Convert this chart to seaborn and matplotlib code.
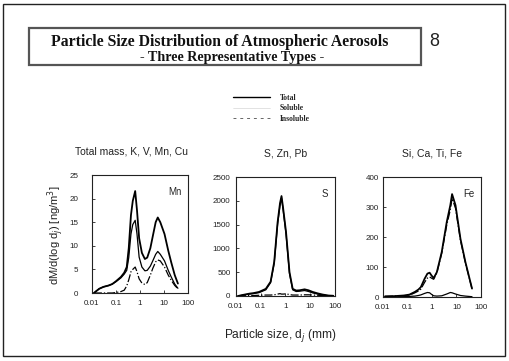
import numpy as np
import pandas as pd
import matplotlib
matplotlib.use("Agg")
import matplotlib.pyplot as plt
from matplotlib.patches import Rectangle
from matplotlib.lines import Line2D
import seaborn as sns

# ------------------------------------------------------------
# Data (particle size in um, dM/dlogd)
# ------------------------------------------------------------
size_mn = [0.012, 0.015, 0.02, 0.03, 0.05, 0.07, 0.1, 0.16, 0.22, 0.28, 0.34, 0.42, 0.5,
           0.63, 0.75, 0.92, 1.2, 1.6, 2.0, 2.7, 3.4, 4.5, 5.5, 7.0, 10.5, 15, 20, 28, 38]
mn_total = [0, 0.4, 0.9, 1.3, 1.6, 1.9, 2.5, 3.4, 4.3, 5.5, 9.5, 16.5, 19.5,
            21.6, 17.5, 11.6, 8.5, 7.2, 7.5, 9.5, 12.0, 15.0, 16.0, 15.0, 12.5, 9.0, 6.5, 3.8, 2.0]
mn_soluble = [0, 0.4, 0.9, 1.3, 1.6, 1.9, 2.4, 3.2, 4.0, 4.8, 7.5, 12.5, 14.5,
              15.4, 12.5, 7.6, 5.5, 4.7, 4.8, 5.7, 6.8, 8.2, 8.8, 8.2, 6.8, 4.8, 3.4, 1.9, 1.0]
mn_insoluble = [0, 0, 0, 0, 0, 0, 0.1, 0.3, 0.6, 1.5, 2.8, 4.5, 5.0,
                5.5, 4.5, 3.0, 2.1, 1.8, 2.2, 3.8, 5.2, 6.6, 7.0, 6.8, 5.5, 3.8, 2.7, 1.6, 0.9]

size_s = [0.012, 0.02, 0.035, 0.05, 0.085, 0.16, 0.25, 0.35, 0.48, 0.6, 0.69, 0.8,
          1.05, 1.45, 1.95, 2.7, 3.7, 5.9, 8.5, 12.6, 20, 32, 55, 85]
s_total = [0, 25, 50, 60, 85, 150, 300, 715, 1550, 1950, 2100, 1850,
           1345, 500, 150, 115, 120, 140, 120, 85, 55, 30, 10, 5]
s_soluble = [0, 20, 40, 50, 70, 130, 280, 690, 1510, 1900, 2060, 1810,
             1300, 470, 130, 95, 100, 115, 95, 65, 40, 20, 5, 2]
s_insoluble = [0, 5, 10, 10, 15, 20, 20, 25, 40, 50, 40, 40,
               45, 30, 20, 20, 20, 25, 25, 20, 15, 10, 5, 3]

size_fe = [0.012, 0.03, 0.07, 0.12, 0.2, 0.28, 0.35, 0.5, 0.65, 0.8, 0.95, 1.17,
           1.58, 2.5, 4.0, 5.6, 6.6, 9.1, 14.5, 23, 43]
fe_total = [2, 3, 5, 8, 17, 25, 33, 61, 78, 81, 72, 63,
            83, 150, 250, 306, 343, 306, 194, 117, 28]
fe_soluble = [0, 0, 1, 2, 3, 5, 7, 12, 15, 14, 9, 4,
              3, 4, 10, 15, 14, 10, 5, 3, 1]
fe_insoluble = [2, 3, 4, 6, 14, 20, 26, 49, 63, 67, 63, 59,
                80, 146, 240, 291, 329, 296, 189, 114, 27]

panel_titles = ["Total mass, K, V, Mn, Cu", "S, Zn, Pb", "Si, Ca, Ti, Fe"]
element_labels = ["Mn", "S", "Fe"]
y_limits = [25, 2500, 400]
y_ticks = [[0, 5, 10, 15, 20, 25], [0, 500, 1000, 1500, 2000, 2500], [0, 100, 200, 300, 400]]
x_ticks = [0.01, 0.1, 1, 10, 100]
x_tick_labels = ["0.01", "0.1", "1", "10", "100"]
series_names = ["Total", "Soluble", "Insoluble"]

panels = [
    (size_mn, mn_total, mn_soluble, mn_insoluble),
    (size_s, s_total, s_soluble, s_insoluble),
    (size_fe, fe_total, fe_soluble, fe_insoluble),
]

# ------------------------------------------------------------
# Figure
# ------------------------------------------------------------
sns.set_theme(style="white")
plt.rcParams["font.family"] = ["Liberation Sans", "DejaVu Sans"]

W, H = 510, 361
fig = plt.figure(figsize=(5.1, 3.61), dpi=100)
fig.patch.set_facecolor("white")

def fx(px):
    return px / W

def fy(py):
    return 1 - py / H

serif = ["Liberation Serif", "DejaVu Serif"]

# slide border and title box
fig.add_artist(Rectangle((fx(3), fy(356)), fx(502), 352 / H, transform=fig.transFigure,
                         fill=False, edgecolor="#222222", lw=1.0))
fig.add_artist(Rectangle((fx(29), fy(65)), fx(392), 37 / H, transform=fig.transFigure,
                         fill=False, edgecolor="#555555", lw=1.6))

fig.text(fx(220), fy(42), "Particle Size Distribution of Atmospheric Aerosols",
         family=serif, weight="bold", fontsize=11.3, ha="center", va="center", color="#111111")
fig.text(fx(232), fy(57), "- Three Representative Types -",
         family=serif, weight="bold", fontsize=10.2, ha="center", va="center", color="#111111")
fig.text(fx(434), fy(42), "8", fontsize=13, ha="center", va="center", color="#222222")

# axes boxes (pixel positions on the slide)
boxes = [(92, 175, 188, 293), (236, 177, 335, 296), (383, 177, 481, 297)]
y_pads = [10, 4, 3]
title_x = [0.41, 0.5, 0.5]

styles = {
    "Total": dict(color="black", lw=1.3, ls="-"),
    "Soluble": dict(color="black", lw=0.9, ls="-"),
    "Insoluble": dict(color="black", lw=0.9, ls="-."),
}

for i, (x0, y0, x1, y1) in enumerate(boxes):
    ax = fig.add_axes([fx(x0), fy(y1), fx(x1 - x0), (y1 - y0) / H])
    sizes, tot, sol, ins = panels[i]
    df = pd.DataFrame({"size": sizes, "Total": tot, "Soluble": sol, "Insoluble": ins})
    long_df = df.melt(id_vars="size", var_name="series", value_name="value")
    for name in series_names:
        sub = long_df[long_df["series"] == name]
        sns.lineplot(data=sub, x="size", y="value", ax=ax, legend=False, **styles[name])

    ax.set_xscale("log")
    ax.set_xlim(0.01, 100)
    ax.set_ylim(0, y_limits[i])
    ax.set_xticks(x_ticks)
    ax.set_xticklabels(x_tick_labels)
    ax.minorticks_off()
    ax.set_yticks(y_ticks[i])
    ax.tick_params(axis="both", direction="in", length=2.5, width=0.6, labelsize=5.8,
                   colors="#222222", bottom=True, left=True)
    ax.tick_params(axis="x", pad=5)
    ax.tick_params(axis="y", pad=y_pads[i])
    ax.set_xlabel("")
    ax.set_ylabel("")
    for sp in ax.spines.values():
        sp.set_color("#222222")
        sp.set_linewidth(0.8)
    ax.text(0.93, 0.9, element_labels[i], transform=ax.transAxes, ha="right", va="top",
            fontsize=7)
    ax.set_title(panel_titles[i], fontsize=7.5, pad=15, color="#222222", x=title_x[i])

fig.text(fx(55), fy(235), r"dM/d(log d$_j$) [ng/m$^3$]", rotation=90, fontsize=8,
         ha="center", va="center", color="#222222")
fig.text(fx(280), fy(336), r"Particle size, d$_j$ (mm)", fontsize=8.6,
         ha="center", va="center", color="#222222")

handles = [Line2D([0], [0], color="black", lw=1.0, ls="-"),
           Line2D([0], [0], color="#cccccc", lw=0.4, ls="-"),
           Line2D([0], [0], color="#666666", lw=0.7, ls=(0, (3, 4)))]
fig.legend(handles, series_names, loc="upper left", bbox_to_anchor=(fx(233), fy(94)),
           frameon=False, borderpad=0, borderaxespad=0, handlelength=4.8, handletextpad=1.3,
           labelspacing=0.3, prop={"family": serif, "weight": "bold", "size": 5.5})

fig.savefig("out.png", dpi=100, facecolor="white")
